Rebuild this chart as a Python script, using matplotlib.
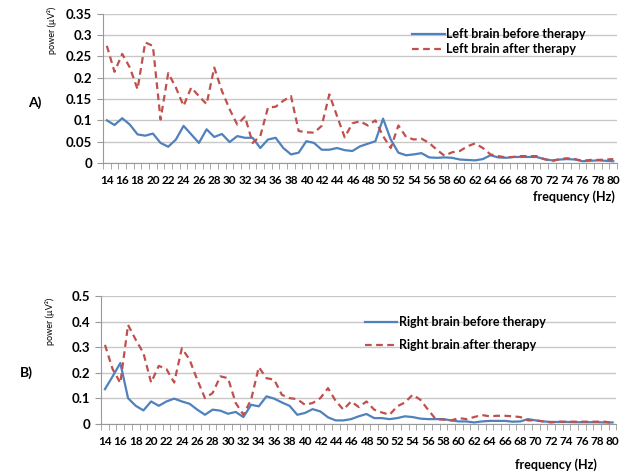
import matplotlib
matplotlib.use('Agg')
import matplotlib.pyplot as plt
import numpy as np

freq = list(range(14, 81))

# left brain (panel A)
left_before = [0.100, 0.089, 0.105, 0.090, 0.067, 0.064, 0.069, 0.047, 0.038, 0.055,
               0.087, 0.067, 0.047, 0.079, 0.061, 0.068, 0.049, 0.063, 0.059, 0.059,
               0.035, 0.055, 0.059, 0.035, 0.020, 0.024, 0.051, 0.047, 0.031, 0.031,
               0.035, 0.030, 0.028, 0.039, 0.045, 0.051, 0.104, 0.055, 0.024, 0.018,
               0.020, 0.023, 0.013, 0.012, 0.013, 0.012, 0.008, 0.007, 0.006, 0.009,
               0.018, 0.013, 0.012, 0.014, 0.014, 0.014, 0.014, 0.009, 0.006, 0.008,
               0.009, 0.008, 0.004, 0.005, 0.006, 0.005, 0.004]
left_after = [0.275, 0.214, 0.256, 0.224, 0.173, 0.283, 0.275, 0.102, 0.211, 0.177,
              0.134, 0.177, 0.157, 0.138, 0.224, 0.169, 0.126, 0.090, 0.109, 0.047,
              0.063, 0.130, 0.132, 0.146, 0.157, 0.075, 0.072, 0.071, 0.087, 0.161,
              0.110, 0.060, 0.093, 0.098, 0.088, 0.100, 0.063, 0.035, 0.088, 0.061,
              0.055, 0.057, 0.047, 0.031, 0.017, 0.025, 0.028, 0.039, 0.046, 0.035,
              0.020, 0.016, 0.013, 0.014, 0.016, 0.016, 0.016, 0.009, 0.004, 0.009,
              0.011, 0.009, 0.005, 0.007, 0.007, 0.008, 0.009]

# right brain (panel B)
right_before = [0.136, 0.186, 0.238, 0.101, 0.071, 0.053, 0.088, 0.071, 0.088, 0.099,
                0.088, 0.079, 0.056, 0.036, 0.056, 0.052, 0.040, 0.047, 0.027, 0.075,
                0.069, 0.108, 0.099, 0.084, 0.071, 0.036, 0.043, 0.058, 0.049, 0.026,
                0.014, 0.014, 0.019, 0.030, 0.039, 0.023, 0.023, 0.019, 0.023, 0.030,
                0.027, 0.021, 0.019, 0.019, 0.019, 0.014, 0.010, 0.010, 0.006, 0.010,
                0.012, 0.012, 0.012, 0.009, 0.010, 0.019, 0.014, 0.010, 0.008, 0.008,
                0.008, 0.007, 0.007, 0.007, 0.007, 0.006, 0.006]
right_after = [0.309, 0.214, 0.160, 0.387, 0.329, 0.277, 0.162, 0.227, 0.214, 0.162,
               0.296, 0.251, 0.173, 0.101, 0.121, 0.186, 0.179, 0.082, 0.036, 0.095,
               0.222, 0.179, 0.173, 0.114, 0.101, 0.097, 0.075, 0.082, 0.101, 0.140,
               0.090, 0.056, 0.088, 0.066, 0.088, 0.056, 0.045, 0.036, 0.069, 0.084,
               0.114, 0.095, 0.056, 0.019, 0.017, 0.014, 0.023, 0.019, 0.027, 0.035,
               0.030, 0.032, 0.032, 0.030, 0.027, 0.014, 0.014, 0.010, 0.006, 0.009,
               0.009, 0.009, 0.009, 0.009, 0.009, 0.009, 0.004]

BLUE = '#4F81BD'
RED = '#C0504D'

plt.rcParams['font.family'] = ['Lato', 'DejaVu Sans']

fig = plt.figure(figsize=(6.3, 4.75), dpi=100)


def panel(rect, before, after, labels, ymax, ystep, legend_pos, legend_spacing):
    ax = fig.add_axes(rect)
    ax.plot(freq, before, color=BLUE, lw=1.6, solid_joinstyle='round', label=labels[0])
    ax.plot(freq, after, color=RED, lw=1.6, ls=(0, (3, 2)), dash_joinstyle='round',
            label=labels[1])
    ax.set_xlim(13.5, 80.5)
    ax.set_ylim(0, ymax)
    yt = np.arange(0, ymax + ystep / 2, ystep)
    ax.set_yticks(yt)
    ax.set_yticklabels(['0'] + ['%g' % v for v in yt[1:]], fontweight='bold', fontsize=9.5)
    ax.set_xticks(range(14, 81, 2))
    ax.set_xticklabels([str(v) for v in range(14, 81, 2)], fontweight='bold', fontsize=8.5)
    ax.set_xticks(np.arange(13.5, 81, 1), minor=True)
    ax.tick_params(axis='x', which='major', length=0, pad=9)
    ax.tick_params(axis='x', which='minor', length=4, color='#999999')
    ax.tick_params(axis='y', length=4, color='#999999', pad=4)
    ax.grid(axis='y', color='#c8c8c8', lw=1)
    ax.set_axisbelow(True)
    for s in ['top', 'right']:
        ax.spines[s].set_visible(False)
    for s in ['left', 'bottom']:
        ax.spines[s].set_color('#999999')
    ax.legend(loc='upper left', bbox_to_anchor=legend_pos, frameon=False,
              handlelength=2.6, handletextpad=0.1, labelspacing=legend_spacing,
              prop={'weight': 'bold', 'size': 9})
    return ax


panel([0.1635, 0.657, 0.816, 0.3137], left_before, left_after,
      ['Left brain before therapy', 'Left brain after therapy'],
      0.35, 0.05, (0.58, 0.98), 0.25)
panel([0.1605, 0.1074, 0.818, 0.2695], right_before, right_after,
      ['Right brain before therapy', 'Right brain after therapy'],
      0.5, 0.1, (0.49, 0.93), 0.9)

fig.text(0.976, 1 - 197 / 475, 'frequency (Hz)', ha='right', va='center',
         fontsize=9, fontweight='bold')
fig.text(0.948, 1 - 465 / 475, 'frequency (Hz)', ha='right', va='center',
         fontsize=9, fontweight='bold')
fig.text(52 / 630, 1 - 30 / 475, 'power (µV²)', rotation=90, ha='center', va='center',
         fontsize=6.5)
fig.text(50 / 630, 1 - 321 / 475, 'power (µV²)', rotation=90, ha='center', va='center',
         fontsize=6.5)
fig.text(28 / 630, 1 - 103 / 475, 'A)', ha='left', va='center', fontsize=10,
         fontweight='bold')
fig.text(20 / 630, 1 - 373 / 475, 'B)', ha='left', va='center', fontsize=10,
         fontweight='bold')

fig.savefig('out.png', dpi=100)
